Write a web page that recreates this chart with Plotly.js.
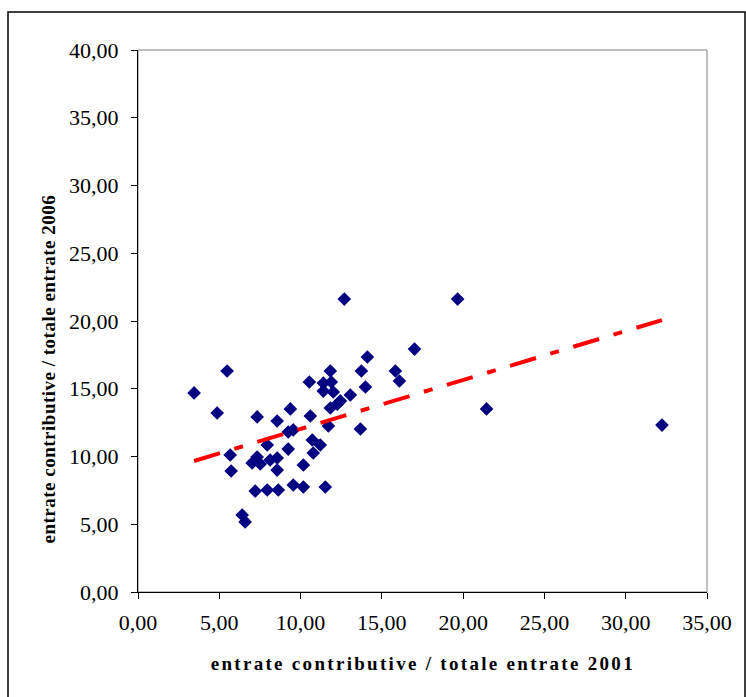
<!DOCTYPE html>
<html>
<head>
<meta charset="utf-8">
<script src="https://cdn.plot.ly/plotly-3.0.1.min.js"></script>
<style>
  html, body { margin: 0; padding: 0; background: #fff; }
  #chart { width: 746px; height: 697px; }
  g.annotation[data-index="0"] text { letter-spacing: 0.5px; }
  g.annotation[data-index="1"] text { letter-spacing: 2.3px; }
</style>
</head>
<body>
<div id="chart"></div>
<script>
// Values
const xValues = [3.45, 4.87, 5.48, 5.67, 5.73, 6.41, 6.59, 7.33, 7.33, 7.02,
                 7.52, 8.13, 8.56, 8.56, 7.21, 7.95, 8.63, 7.95, 8.56, 9.37,
                 9.24, 9.55, 9.24, 10.17, 9.55, 10.17, 11.52, 10.60, 10.72, 11.21,
                 10.78, 10.54, 11.40, 11.89, 11.83, 11.40, 12.01, 13.06, 13.99, 13.74,
                 14.11, 12.69, 12.26, 11.83, 11.71, 13.68, 15.83, 16.08, 17.01, 19.66,
                 21.44, 32.23, 12.45];
const yValues = [14.69, 13.21, 16.31, 10.11, 8.93, 5.68, 5.17, 12.92, 9.96, 9.52,
                 9.45, 9.74, 9.89, 9.00, 7.45, 7.53, 7.53, 10.85, 12.62, 13.51,
                 11.81, 11.96, 10.55, 9.37, 7.90, 7.75, 7.75, 12.99, 11.22, 10.85,
                 10.26, 15.50, 15.42, 15.50, 16.31, 14.83, 14.76, 14.54, 15.13, 16.31,
                 17.34, 21.62, 13.87, 13.58, 12.25, 12.03, 16.31, 15.57, 17.93, 21.62,
                 13.51, 12.32, 14.10];
// Linear trend line end points
const trendX = [3.45, 32.23];
const trendY = [9.67, 20.07];

const xTitle = "entrate contributive / totale entrate 2001";
const yTitle = "entrate contributive / totale entrate 2006";

const W = 746, H = 697;
const mL = 138, mR = 39, mT = 50, mB = 105;
const pw = W - mL - mR, ph = H - mT - mB;
const px = v => (v - mL) / pw;
const py = v => (H - mB - v) / ph;

const traces = [
  {
    x: xValues, y: yValues, type: 'scatter', mode: 'markers',
    marker: { symbol: 'diamond', size: 10.5, color: '#000080', line: { width: 0 } },
    hoverinfo: 'none', showlegend: false
  },
  {
    x: trendX, y: trendY, type: 'scatter', mode: 'lines',
    line: { color: '#ff0000', width: 4, dash: '27px,15px,9px,15px' },
    hoverinfo: 'none', showlegend: false
  }
];

const tickFont = { family: 'Liberation Serif, Times New Roman, serif', size: 22, color: '#000' };
const titleFont = { family: 'Liberation Serif, Times New Roman, serif', size: 19, color: '#000', weight: 'bold' };

const axisCommon = {
  showgrid: false, zeroline: false, showline: true, linecolor: '#000', linewidth: 1,
  ticks: 'outside', ticklen: 6, tickcolor: '#000', tickwidth: 1,
  tickformat: '.2f', tickfont: tickFont, dtick: 5, tick0: 0, fixedrange: true
};

const layout = {
  width: W, height: H,
  margin: { l: mL, r: mR, t: mT, b: mB, pad: 0 },
  paper_bgcolor: '#ffffff', plot_bgcolor: '#ffffff',
  separators: ',.',
  showlegend: false,
  xaxis: Object.assign({}, axisCommon, { range: [0, 35], ticklabelstandoff: 5 }),
  yaxis: Object.assign({}, axisCommon, { range: [0, 40], ticklabelstandoff: 8 }),
  shapes: [
    { type: 'rect', xref: 'paper', yref: 'paper', x0: 0, x1: 1, y0: 0, y1: 1,
      line: { color: '#808080', width: 1 }, layer: 'below' },
    { type: 'rect', xref: 'paper', yref: 'paper',
      x0: px(8), x1: px(745), y0: py(710), y1: py(12),
      line: { color: '#000', width: 1.5 }, layer: 'below' }
  ],
  annotations: [
    { text: '<b>' + yTitle + '</b>', xref: 'paper', yref: 'paper',
      x: px(48), y: py(369), textangle: -90, showarrow: false,
      xanchor: 'center', yanchor: 'middle', font: titleFont },
    { text: '<b>' + xTitle + '</b>', xref: 'paper', yref: 'paper',
      x: px(423), y: py(663), showarrow: false,
      xanchor: 'center', yanchor: 'middle', font: titleFont }
  ]
};

Plotly.newPlot('chart', traces, layout, { displayModeBar: false, staticPlot: true });
</script>
</body>
</html>
